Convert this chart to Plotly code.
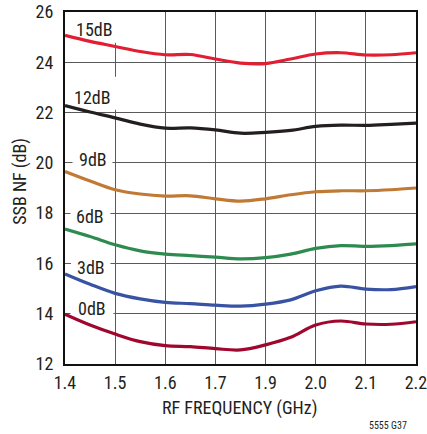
import plotly.graph_objects as go

# x positions in grid units (1.4 ... 2.1 covering the 8 gridlines)
x_vals = [1.40, 1.45, 1.50, 1.55, 1.60, 1.65, 1.70, 1.75, 1.80, 1.85, 1.90, 1.95, 2.00, 2.05, 2.10]
tick_vals = [1.4, 1.5, 1.6, 1.7, 1.8, 1.9, 2.0, 2.1]
tick_text = ["1.4", "1.5", "1.6", "1.7", "1.9", "2.0", "2.1", "2.2"]
y_ticks = [12, 14, 16, 18, 20, 22, 24, 26]

nf_15db = [25.07, 24.83, 24.63, 24.43, 24.30, 24.31, 24.13, 23.97, 23.95, 24.13, 24.33, 24.38, 24.29, 24.30, 24.38]
nf_12db = [22.28, 22.02, 21.79, 21.54, 21.38, 21.39, 21.31, 21.18, 21.21, 21.29, 21.45, 21.50, 21.49, 21.53, 21.58]
nf_9db = [19.66, 19.28, 18.93, 18.76, 18.68, 18.69, 18.57, 18.48, 18.57, 18.73, 18.85, 18.89, 18.89, 18.93, 19.00]
nf_6db = [17.37, 17.07, 16.74, 16.50, 16.37, 16.31, 16.25, 16.18, 16.23, 16.37, 16.60, 16.71, 16.68, 16.71, 16.78]
nf_3db = [15.58, 15.17, 14.81, 14.59, 14.45, 14.40, 14.34, 14.30, 14.38, 14.55, 14.91, 15.10, 14.98, 14.96, 15.08]
nf_0db = [13.98, 13.55, 13.19, 12.89, 12.73, 12.69, 12.61, 12.56, 12.76, 13.06, 13.55, 13.71, 13.59, 13.58, 13.68]

series_names = ["15dB", "12dB", "9dB", "6dB", "3dB", "0dB"]
series_vals = [nf_15db, nf_12db, nf_9db, nf_6db, nf_3db, nf_0db]

# styling / placement (not data)
colors = ["#e21f32", "#231f20", "#c17a35", "#2e8b4f", "#3953a4", "#a0072e"]
label_pos = [(1.459, 25.31), (1.455, 22.61), (1.456, 20.13), (1.450, 17.85), (1.451, 15.85), (1.453, 14.19)]
label_boxes = [(1.411, 1.5046, 24.78, 26.0), (1.407, 1.5046, 22.11, 23.42), (1.415, 1.4946, 19.72, 20.52),
               (1.411, 1.4906, 17.41, 18.33), (1.412, 1.4906, 15.42, 16.34), (1.411, 1.4966, 13.75, 14.63)]

FONT = "Liberation Sans Narrow, Arial Narrow, Roboto Condensed, sans-serif"
TXT = "#231f20"

fig = go.Figure()
annotations = []
shapes = []
for name, vals, color, (lx, ly), (bx0, bx1, by0, by1) in zip(series_names, series_vals, colors, label_pos, label_boxes):
    fig.add_trace(go.Scatter(x=x_vals, y=vals, mode="lines", name=name,
                             line=dict(color=color, width=3.2, shape="spline", smoothing=1.0),
                             showlegend=False, hoverinfo="skip"))
    annotations.append(dict(x=lx, y=ly, xref="x", yref="y", text=name, showarrow=False,
                            font=dict(family=FONT, size=18, color=TXT)))
    shapes.append(dict(type="rect", xref="x", yref="y", x0=bx0, x1=bx1, y0=by0, y1=by1,
                       fillcolor="white", line=dict(width=0), layer="between"))

annotations += [
    dict(x=0.498, y=-0.125, xref="paper", yref="paper", text="RF FREQUENCY (GHz)",
         showarrow=False, font=dict(family=FONT, size=18, color=TXT), xanchor="center", yanchor="middle"),
    dict(x=-0.128, y=0.518, xref="paper", yref="paper", text="SSB NF (dB)", textangle=-90,
         showarrow=False, font=dict(family=FONT, size=18, color=TXT), xanchor="center", yanchor="middle"),
    dict(x=0.979, y=-0.175, xref="paper", yref="paper", text="5555 G37",
         showarrow=False, font=dict(family=FONT, size=10, color=TXT), xanchor="right", yanchor="middle"),
]

fig.update_layout(
    width=427, height=434,
    margin=dict(l=64.5, r=11.3, t=12.3, b=70, autoexpand=False),
    paper_bgcolor="white", plot_bgcolor="white",
    annotations=annotations, shapes=shapes,
    font=dict(family=FONT, size=18, color=TXT),
)
fig.update_xaxes(range=[1.4, 2.1], tickvals=tick_vals, ticktext=tick_text, automargin=False,
                 ticklabeloverflow="allow",
                 showgrid=True, gridcolor="#5a5a5a", gridwidth=1.3,
                 showline=True, linecolor="#111111", linewidth=2.2, mirror=True,
                 ticks="outside", ticklen=1, tickcolor="rgba(0,0,0,0)",
                 tickfont=dict(family=FONT, size=18, color=TXT), zeroline=False, fixedrange=True)
fig.update_yaxes(range=[12, 26], tickvals=y_ticks, automargin=False,
                 ticklabeloverflow="allow",
                 showgrid=True, gridcolor="#5a5a5a", gridwidth=1.3,
                 showline=True, linecolor="#111111", linewidth=2.2, mirror=True,
                 ticks="outside", ticklen=6, tickcolor="rgba(0,0,0,0)",
                 tickfont=dict(family=FONT, size=18, color=TXT), zeroline=False, fixedrange=True)

fig.write_html("out.html", config={"displayModeBar": False},
               post_script="document.body.style.margin='0';document.body.style.padding='0';")
